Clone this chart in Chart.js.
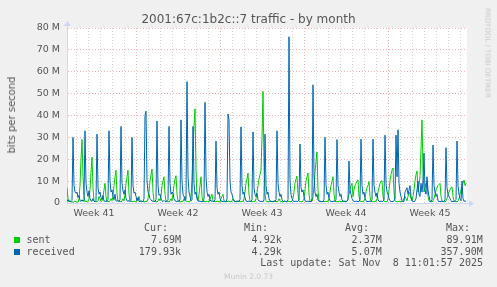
<!DOCTYPE html>
<html><head><meta charset="utf-8">
<script src="https://cdn.jsdelivr.net/npm/chart.js@4/dist/chart.umd.min.js"></script>
<style>
html,body{margin:0;padding:0;background:#F0F0F0;width:497px;height:287px;overflow:hidden}
#wrap{position:relative;width:497px;height:287px}
canvas{position:absolute;left:0;top:0}
.t{position:absolute;white-space:pre;font-family:"DejaVu Sans",sans-serif;color:#555;line-height:1}
.m{position:absolute;white-space:pre;font-family:"DejaVu Sans Mono",monospace;font-size:10px;color:#555;line-height:1}
.sq{position:absolute;width:6px;height:6px}
</style></head><body>
<div id="wrap"><canvas id="c" width="497" height="287"></canvas></div>
<script>
// ---- data (time in 2-hour slots from the left edge of the graph; values in Mbit/s) ----
const chartTitle = '2001:67c:1b2c::7 traffic - by month';
const yAxisTitle = 'bits per second';
const weekLabels = ['Week 41', 'Week 42', 'Week 43', 'Week 44', 'Week 45'];
const weekBoundarySlots = [69, 153, 237, 321];
const slotsPerDay = 12;
const totalSlots = 400;
const yTickValues = [0, 5, 10, 15, 20, 25, 30, 35, 40, 45, 50, 55, 60, 65, 70, 75, 80];

const received = [[0,0.5],[1,1.5],[2,0.8],[3,1],[4,0.6],[5,1.2],
[6,30],[7,8],[8,5],[9,4.5],[10,5],[11,2.5],[12,3.5],[13,1],[14,0.8],[15,1.5],[16,0.7],[17,1.5],
[18,33],[19,9],[20,5],[21,3],[22,5.5],[23,2],[24,1],[25,0.8],[26,2],[27,0.8],[28,0.6],[29,1.2],
[30,31.5],[31,7],[32,4],[33,5],[34,2.5],[35,1.5],[36,3.5],[37,0.8],[38,1],[39,0.6],[40,1],[41,1.5],
[42,33],[43,10],[44,5],[45,6],[46,3],[47,1.5],[48,4],[49,1],[50,0.8],[51,1.2],[52,0.7],[53,1.5],
[54,35],[55,9],[56,5.5],[57,4],[58,6],[59,2],[60,1],[61,0.8],[62,1.2],[63,0.6],[64,1.2],
[65,30],[66,8],[67,4.5],[68,5],[69,3],[70,1],[71,2.5],[72,0.8],[73,0.6],[74,1],[75,0.8],[76,0.6],[77,2],
[78,40],[79,42],[80,10],[81,5],[82,4],[83,2],[84,1.5],[85,0.8],[86,1],[87,0.6],[88,0.8],[89,1.5],
[90,37.5],[91,8],[92,3.5],[93,4],[94,2],[95,1],[96,0.6],[97,1.2],[98,0.7],[99,0.6],[100,1],[101,1.5],
[102,35],[103,9],[104,4],[105,5],[106,4.5],[107,2],[108,1],[109,0.8],[110,0.6],[111,1],[112,0.8],[113,1.5],
[114,38],[115,10],[116,4],[117,3],[118,1],[119,2],[120,55.5],[121,12],[122,5],[123,3],[124,1],[125,1.5],
[126,35],[127,9],[128,4],[129,5],[130,2],[131,1],[132,0.7],[133,1],[134,0.5],[135,0.8],[136,0.6],[137,2],
[138,46],[139,12],[140,5],[141,3],[142,4],[143,1.5],[144,0.8],[145,1],[146,0.6],[147,0.8],[148,1.5],
[149,28.3],[150,7],[151,4],[152,5],[153,2],[154,1],[155,0.6],[156,0.8],[157,0.6],[158,1],[159,0.5],[160,2],
[161,40.7],[162,38],[163,10],[164,5],[165,4],[166,2],[167,1],[168,0.8],[169,0.6],[170,1],[171,0.7],[172,0.8],[173,1.5],
[174,34.8],[175,8],[176,4],[177,5],[178,2.5],[179,1],[180,0.8],[181,0.6],[182,1],[183,0.6],[184,0.8],[185,1.5],
[186,32.5],[187,7],[188,4],[189,3],[190,4.5],[191,1.5],[192,0.8],[193,1],[194,0.6],[195,0.8],[196,0.5],[197,1.5],
[198,31.5],[199,8],[200,4],[201,5],[202,2],[203,1],[204,0.6],[205,0.8],[206,0.6],[207,1],[208,0.7],[209,1.5],
[210,33],[211,9],[212,5],[213,3],[214,4],[215,1.5],[216,0.8],[217,0.6],[218,1],[219,0.5],[220,0.8],[221,1.5],
[222,76],[223,10],[224,4],[225,2],[226,1],[227,0.8],[228,0.6],[229,1],[230,0.6],[231,0.8],[232,1.5],
[233,27],[234,7],[235,5],[236,6],[237,3],[238,1],[239,0.8],[240,0.6],[241,1],[242,0.6],[243,0.8],[244,0.6],[245,2],
[246,54],[247,12],[248,5],[249,3],[250,4],[251,1.5],[252,0.8],[253,1],[254,0.6],[255,0.8],[256,0.5],[257,1.5],
[258,30],[259,8],[260,4],[261,5],[262,2],[263,1],[264,0.6],[265,0.8],[266,0.6],[267,1],[268,0.6],[269,1.5],
[270,29],[271,8],[272,5],[273,3],[274,4],[275,1.5],[276,0.8],[277,0.6],[278,1],[279,0.6],[280,0.8],[281,1.5],
[282,19.2],[283,6],[284,4],[285,2],[286,1],[287,0.8],[288,0.6],[289,1],[290,0.6],[291,0.8],[292,0.6],[293,1.5],
[294,29.2],[295,8],[296,4],[297,5],[298,2],[299,1],[300,0.6],[301,0.8],[302,0.6],[303,1],[304,0.6],[305,1.5],
[306,29.2],[307,8],[308,5],[309,3],[310,4.5],[311,1.5],[312,0.8],[313,0.6],[314,1],[315,0.6],[316,0.8],[317,1.5],
[318,31],[319,9],[320,5],[321,4],[322,2],[323,1],[324,0.6],[325,0.8],[326,0.6],[327,1],[328,2],
[329,31],[330,12],[331,33.5],[332,9],[333,5],[334,3],[335,1],[336,0.6],[337,0.8],[338,5],[339,6],[340,7],[341,4],[342,6],[343,8],[344,3],[345,1],[346,0.8],[347,0.6],[348,1],[349,2],[350,6],[351,10],[352,4],[353,3],[354,9],[355,5],[356,10],
[357,22.8],[358,6],[359,4],[360,12],[361,6],[362,3],[363,1],[364,0.6],[365,1.5],
[366,26.5],[367,8],[368,5],[369,3],[370,4],[371,1],[372,0.6],[373,0.8],[374,0.6],[375,1],[376,0.6],[377,0.8],[378,1.5],
[379,25.3],[380,7],[381,4],[382,3],[383,2],[384,1],[385,0.6],[386,0.8],[387,0.6],[388,1],[389,1.5],
[390,28.3],[391,8],[392,4],[393,2],[394,1],[395,10],[396,2],[397,0.8],[398,1],[399,0.6]];

const sent = [[0,7],[1,2],[2,0.5],[3,1],[4,0.4],[5,0.6],[6,0.3],[7,0.5],[8,1],[9,0.4],[10,0.6],[11,0.3],[12,2],[13,8],[14,20],[15,29],[16,12],[17,3],[18,0.5],[19,1],[20,0.4],[21,0.6],[22,2],[23,6],[24,14],[25,21],[26,7],[27,1],[28,0.5],[29,0.8],[30,0.4],[31,1],[32,3],[33,2],[34,0.6],[35,1],[36,3],[37,6],[38,9],[39,3],[40,0.6],[41,1],[42,0.4],[43,1],[44,2],[45,1],[46,3],[47,8],[48,12],[49,15],[50,4],[51,1],[52,0.5],[53,0.8],[54,0.4],[55,1],[56,2],[57,1],[58,4],[59,9],[60,12],[61,15],[62,4],[63,1],[64,0.5],[65,0.8],[66,0.4],[67,1],[68,0.6],[69,0.5],[70,1.5],[71,2],[72,3],[73,1],[74,0.4],[75,0.8],[76,0.5],[77,0.7],[78,0.4],[79,1],[80,0.6],[81,2],[82,5],[83,10],[84,13],[85,15.5],[86,5],[87,1],[88,0.5],[89,0.8],[90,0.4],[91,1],[92,2],[93,1],[94,3],[95,8],[96,10],[97,12],[98,4],[99,1],[100,0.5],[101,0.8],[102,0.4],[103,1],[104,2],[105,1],[106,4],[107,8],[108,11],[109,12.5],[110,4],[111,1],[112,0.5],[113,0.7],[114,0.4],[115,1],[116,0.6],[117,2],[118,3],[119,1],[120,0.5],[121,0.8],[122,0.4],[123,0.6],[124,3],[125,10],[126,25],[127,35],[128,43],[129,15],[130,3],[131,1],[132,4],[133,8],[134,12],[135,3],[136,0.6],[137,1],[138,0.4],[139,0.8],[140,0.5],[141,1],[142,0.4],[143,2],[144,3],[145,4],[146,1],[147,0.6],[148,0.8],[149,0.4],[150,1],[151,0.5],[152,0.8],[153,0.4],[154,2],[155,3],[156,4],[157,1],[158,0.5],[159,0.8],[160,0.4],[161,1],[162,0.6],[163,0.8],[164,0.4],[165,1],[166,2],[167,0.8],[168,0.5],[169,0.7],[170,0.4],[171,1],[172,0.6],[173,0.8],[174,0.4],[175,1],[176,0.5],[177,2],[178,5],[179,9],[180,11],[181,13.7],[182,4],[183,1],[184,0.5],[185,0.8],[186,0.4],[187,1],[188,0.6],[189,2],[190,5],[191,8],[192,11],[193,13],[194,15],[195,30],[196,51],[197,18],[198,4],[199,1],[200,0.5],[201,0.8],[202,0.4],[203,1],[204,0.6],[205,0.8],[206,0.4],[207,1],[208,0.6],[209,0.8],[210,0.4],[211,1],[212,2],[213,1],[214,0.5],[215,0.8],[216,0.4],[217,1],[218,0.6],[219,0.8],[220,0.4],[221,1],[222,0.6],[223,0.8],[224,0.4],[225,1],[226,2],[227,5],[228,9],[229,11],[230,12.3],[231,4],[232,1],[233,0.5],[234,0.8],[235,0.4],[236,1],[237,2],[238,6],[239,10],[240,12],[241,13.7],[242,4],[243,1],[244,0.5],[245,0.8],[246,3],[247,8],[248,14],[249,19],[250,23.3],[251,6],[252,1],[253,0.5],[254,0.8],[255,0.4],[256,1],[257,0.6],[258,0.8],[259,0.4],[260,1],[261,0.6],[262,2],[263,5],[264,8],[265,10],[266,12],[267,4],[268,1],[269,0.5],[270,0.8],[271,0.4],[272,1],[273,0.6],[274,0.8],[275,0.4],[276,1],[277,0.6],[278,0.8],[279,0.4],[280,1],[281,2],[282,4],[283,6],[284,8],[285,9],[286,3],[287,6],[288,8],[289,9],[290,10],[291,10.5],[292,3],[293,1],[294,0.5],[295,0.8],[296,0.4],[297,1],[298,2],[299,5],[300,7],[301,8],[302,9.8],[303,3],[304,1],[305,0.5],[306,0.8],[307,0.4],[308,1],[309,0.6],[310,2],[311,5],[312,7],[313,9],[314,10],[315,10.2],[316,3],[317,1],[318,0.5],[319,0.8],[320,0.4],[321,2],[322,6],[323,10],[324,13],[325,15],[326,16],[327,5],[328,1],[329,0.5],[330,0.8],[331,0.4],[332,1],[333,0.6],[334,0.8],[335,0.4],[336,1],[337,2],[338,3],[339,2],[340,1],[341,3],[342,5],[343,4],[344,2],[345,1],[346,3],[347,6],[348,10],[349,13],[350,14.6],[351,5],[352,8],[353,12],[354,25],[355,38],[356,15],[357,5],[358,7],[359,9],[360,9.8],[361,3],[362,1],[363,0.5],[364,0.8],[365,0.4],[366,1],[367,2],[368,4],[369,6],[370,7],[371,8],[372,8.5],[373,9],[374,3],[375,1],[376,0.5],[377,0.8],[378,0.4],[379,1],[380,2],[381,4],[382,5],[383,6],[384,7],[385,7.4],[386,3],[387,1],[388,0.5],[389,0.8],[390,0.4],[391,1],[392,2],[393,4],[394,6],[395,8],[396,9],[397,10.5],[398,8],[399,9]];

const legendHeaders = ['Cur:', 'Min:', 'Avg:', 'Max:'];
const legendSeries = ['sent', 'received'];
const legendColors = ['#00cc00', '#0066b3'];
const legendValues = [
  ['7.69M', '4.92k', '2.37M', '89.91M'],
  ['179.93k', '4.29k', '5.07M', '357.90M']
];
const lastUpdate = 'Last update: Sat Nov  8 11:01:57 2025';
const versionText = 'Munin 2.0.73';
const sideText = 'RRDTOOL / TOBI OETIKER';

// ---- derived tick positions ----
const dayLineSlots = [];
for (let s = weekBoundarySlots[0] % slotsPerDay; s < totalSlots; s += slotsPerDay) dayLineSlots.push(s);
const weekMidSlots = weekLabels.map((_, i) => weekBoundarySlots[0] - 42 + 84 * i);
const xTickValues = dayLineSlots.concat(weekMidSlots).sort((a, b) => a - b);

// ---- overlay text ----
const wrap = document.getElementById('wrap');
function addDiv(cls, text, style) {
  const d = document.createElement('div');
  d.className = cls; d.textContent = text;
  Object.assign(d.style, style);
  wrap.appendChild(d); return d;
}
addDiv('t', chartTitle, {left: '0px', width: '497px', textAlign: 'center', top: '13px', fontSize: '12px', color: '#555'});
addDiv('t', yAxisTitle, {left: '12px', top: '115px', fontSize: '10px', transform: 'translate(-50%,-50%) rotate(-90deg)'});
addDiv('t', sideText, {left: '487px', top: '53px', fontSize: '7px', color: '#c8c8c8', transform: 'translate(-50%,-50%) rotate(90deg)'});
const headerRights = [168, 268, 369, 470];
const valueRights = [181, 281.7, 381.7, 482.7];
legendHeaders.forEach((h, i) => addDiv('m', h, {right: (497 - headerRights[i]) + 'px', top: '222.5px'}));
legendSeries.forEach((name, r) => {
  const top = 234.5 + r * 12;
  const sq = document.createElement('div');
  sq.className = 'sq';
  Object.assign(sq.style, {left: '14px', top: (top + 2.5) + 'px', background: legendColors[r]});
  wrap.appendChild(sq);
  addDiv('m', name, {left: '26.5px', top: top + 'px'});
  legendValues[r].forEach((v, i) => addDiv('m', v, {right: (497 - valueRights[i]) + 'px', top: top + 'px'}));
});
addDiv('m', lastUpdate, {right: '14px', top: '258px'});
addDiv('t', versionText, {left: '0px', width: '497px', textAlign: 'center', top: '272.5px', fontSize: '7.5px', color: '#c8c8c8'});

// ---- chart ----
const AXIS = '#CFD6F8';
const GRID_MINOR = 'rgba(175,175,175,0.55)';
const GRID_MAJOR = 'rgba(225,120,120,0.55)';
const canvasPlugin = {
  id: 'canvasBg',
  beforeDraw(chart) {
    const {ctx, chartArea: a} = chart;
    ctx.save(); ctx.fillStyle = '#ffffff';
    ctx.fillRect(a.left, a.top, a.right - a.left, a.bottom - a.top);
    ctx.restore();
  },
  afterDraw(chart) {
    const {ctx, chartArea: a} = chart;
    ctx.save(); ctx.fillStyle = AXIS; ctx.strokeStyle = AXIS; ctx.lineWidth = 1;
    ctx.beginPath(); ctx.moveTo(a.left + 0.5, a.top); ctx.lineTo(a.left + 0.5, a.top - 3); ctx.stroke();
    ctx.beginPath(); ctx.moveTo(a.left - 3, a.top - 2); ctx.lineTo(a.left + 4, a.top - 2); ctx.lineTo(a.left + 0.5, a.top - 7); ctx.closePath(); ctx.fill();
    ctx.beginPath(); ctx.moveTo(a.right, a.bottom + 0.5); ctx.lineTo(a.right + 3, a.bottom + 0.5); ctx.stroke();
    ctx.beginPath(); ctx.moveTo(a.right + 2, a.bottom - 3); ctx.lineTo(a.right + 2, a.bottom + 4); ctx.lineTo(a.right + 7, a.bottom + 0.5); ctx.closePath(); ctx.fill();
    ctx.restore();
  }
};

new Chart(document.getElementById('c'), {
  type: 'line',
  data: {
    datasets: [
      {label: 'received', data: received.map(([x, y]) => ({x, y})), borderColor: '#0066b3', order: 0},
      {label: 'sent', data: sent.map(([x, y]) => ({x, y})), borderColor: '#00cc00', order: 1}
    ]
  },
  options: {
    responsive: false, animation: false, events: [],
    layout: {padding: {left: 0, top: 28, right: 30, bottom: 64}},
    plugins: {legend: {display: false}, tooltip: {enabled: false}},
    elements: {point: {radius: 0}, line: {borderWidth: 1, tension: 0}},
    scales: {
      x: {
        type: 'linear', min: 0, max: totalSlots,
        afterBuildTicks(s) { s.ticks = xTickValues.map(v => ({value: v})); },
        afterFit(s) { s.height = 20; },
        grid: {drawTicks: false, lineWidth: 1,
          color(c) {
            const v = c.tick && c.tick.value;
            if (weekMidSlots.includes(v)) return 'rgba(0,0,0,0)';
            if (weekBoundarySlots.includes(v)) return GRID_MAJOR;
            return GRID_MINOR;
          }},
        border: {color: AXIS, width: 1, dash: [1, 2]},
        ticks: {autoSkip: false, maxRotation: 0, padding: 5, color: '#555',
          font: {family: 'DejaVu Sans', size: 9.5},
          callback(v) { const i = weekMidSlots.indexOf(v); return i >= 0 ? weekLabels[i] : ''; }}
      },
      y: {
        min: 0, max: 80,
        afterBuildTicks(s) { s.ticks = yTickValues.map(v => ({value: v})); },
        afterFit(s) { s.width = 67; },
        grid: {drawTicks: false, lineWidth: 1,
          color(c) { const v = c.tick && c.tick.value; return v % 10 === 0 ? GRID_MAJOR : GRID_MINOR; }},
        border: {color: AXIS, width: 1, dash: [1, 2]},
        ticks: {padding: 7, color: '#555', font: {family: 'DejaVu Sans', size: 9.5},
          callback(v) { if (v % 10 !== 0) return ''; return v === 0 ? '0' : v + ' M'; }}
      }
    }
  },
  plugins: [canvasPlugin]
});
</script>
</body></html>
